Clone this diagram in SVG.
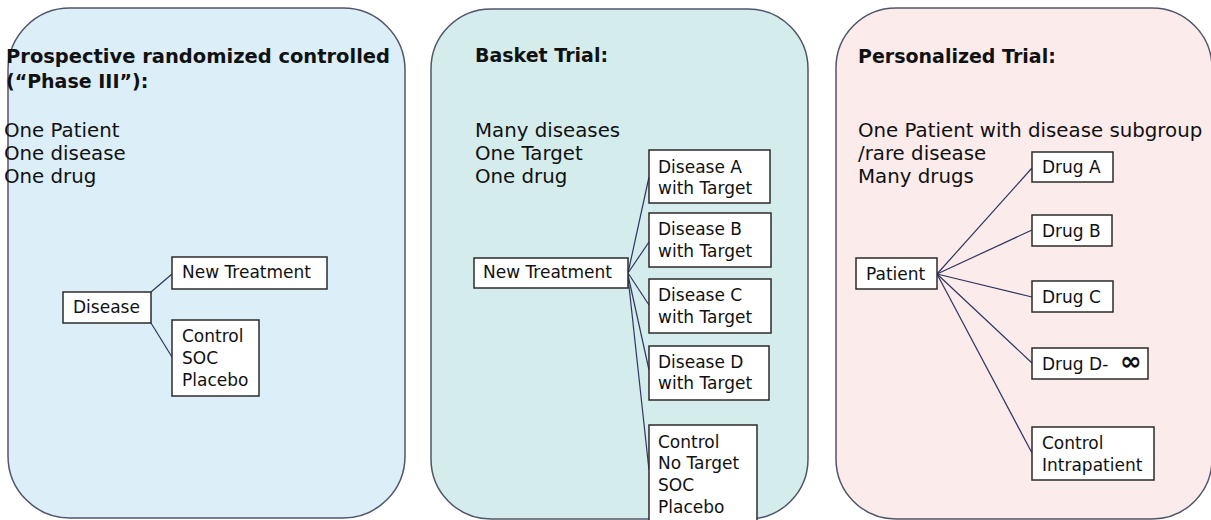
<svg xmlns="http://www.w3.org/2000/svg" width="1211" height="520" viewBox="0 0 1211 520">
<style>
.panel{stroke:#50566a;stroke-width:1.5}
.box{fill:#ffffff;stroke:#2b2b2b;stroke-width:1.5}
.t{font-family:"DejaVu Sans","Liberation Sans",sans-serif;font-size:17px;fill:#111}
.b{font-family:"DejaVu Sans","Liberation Sans",sans-serif;font-size:19.8px;fill:#111}
.h{font-family:"DejaVu Sans","Liberation Sans",sans-serif;font-size:19px;font-weight:bold;fill:#111}
.c line{stroke:#2e3660;stroke-width:1.2}
</style>
<rect width="1211" height="520" fill="#ffffff"/>
<g id="panel-phase3">
<rect class="panel" x="8" y="8" width="397" height="510" rx="62" ry="62" fill="#dceef8"/>
<text class="h" x="6" y="63" textLength="384" lengthAdjust="spacingAndGlyphs">Prospective randomized controlled</text>
<text class="h" x="6" y="88">(“Phase III”):</text>
<text class="b" x="4" y="137">One Patient</text>
<text class="b" x="4" y="160">One disease</text>
<text class="b" x="4" y="183">One drug</text>
</g>
<g id="panel-basket">
<rect class="panel" x="431" y="9" width="377" height="510" rx="60" ry="60" fill="#d5ecec"/>
<text class="h" x="475" y="62">Basket Trial:</text>
<text class="b" x="475" y="137">Many diseases</text>
<text class="b" x="475" y="160">One Target</text>
<text class="b" x="475" y="183">One drug</text>
</g>
<g id="panel-personalized">
<rect class="panel" x="836" y="8" width="376" height="511" rx="60" ry="60" fill="#fbebea"/>
<text class="h" x="858" y="63">Personalized Trial:</text>
<text class="b" x="858" y="137">One Patient with disease subgroup</text>
<text class="b" x="858" y="160">/rare disease</text>
<text class="b" x="858" y="183">Many drugs</text>
</g>
<g id="connectors" class="c">
<line x1="151" y1="292" x2="172" y2="274"/>
<line x1="151" y1="323" x2="172" y2="357"/>
<line x1="628" y1="273" x2="649" y2="177"/>
<line x1="628" y1="273" x2="649" y2="242"/>
<line x1="628" y1="273" x2="649" y2="305"/>
<line x1="628" y1="275" x2="649" y2="370"/>
<line x1="628" y1="277" x2="649" y2="470"/>
<line x1="937" y1="274" x2="1032" y2="168"/>
<line x1="937" y1="274" x2="1032" y2="230"/>
<line x1="937" y1="274" x2="1032" y2="297"/>
<line x1="937" y1="274" x2="1032" y2="363"/>
<line x1="937" y1="274" x2="1032" y2="453"/>
</g>
<g id="disease">
<rect class="box" x="63" y="292" width="88" height="31"/>
<text class="t" x="73" y="313">Disease</text>
</g>
<g id="new-treatment-1">
<rect class="box" x="172" y="257" width="155" height="32"/>
<text class="t" x="182" y="278">New Treatment</text>
</g>
<g id="control-1">
<rect class="box" x="172" y="320" width="87" height="76"/>
<text class="t" x="182" y="342">Control</text>
<text class="t" x="182" y="364">SOC</text>
<text class="t" x="182" y="386">Placebo</text>
</g>
<g id="new-treatment-2">
<rect class="box" x="474" y="258" width="154" height="30"/>
<text class="t" x="483" y="278">New Treatment</text>
</g>
<g id="disease-a">
<rect class="box" x="649" y="150" width="121" height="53"/>
<text class="t" x="658" y="173">Disease A</text>
<text class="t" x="658" y="194">with Target</text>
</g>
<g id="disease-b">
<rect class="box" x="649" y="213" width="122" height="54"/>
<text class="t" x="658" y="235">Disease B</text>
<text class="t" x="658" y="257">with Target</text>
</g>
<g id="disease-c">
<rect class="box" x="649" y="279" width="122" height="54"/>
<text class="t" x="658" y="301">Disease C</text>
<text class="t" x="658" y="323">with Target</text>
</g>
<g id="disease-d">
<rect class="box" x="649" y="346" width="120" height="54"/>
<text class="t" x="658" y="368">Disease D</text>
<text class="t" x="658" y="389">with Target</text>
</g>
<g id="control-2">
<rect class="box" x="649" y="425" width="108" height="100"/>
<text class="t" x="658" y="448">Control</text>
<text class="t" x="658" y="469">No Target</text>
<text class="t" x="658" y="491">SOC</text>
<text class="t" x="658" y="513">Placebo</text>
</g>
<g id="patient">
<rect class="box" x="856" y="258" width="81" height="31"/>
<text class="t" x="866" y="280">Patient</text>
</g>
<g id="drug-a">
<rect class="box" x="1032" y="152" width="81" height="30"/>
<text class="t" x="1042" y="173">Drug A</text>
</g>
<g id="drug-b">
<rect class="box" x="1032" y="215" width="80" height="31"/>
<text class="t" x="1042" y="237">Drug B</text>
</g>
<g id="drug-c">
<rect class="box" x="1032" y="281" width="81" height="31"/>
<text class="t" x="1042" y="303">Drug C</text>
</g>
<g id="drug-d">
<rect class="box" x="1032" y="348" width="116" height="31"/>
<text class="t" x="1042" y="370">Drug D-<tspan x="1120" font-weight="bold" font-size="26">∞</tspan></text>
</g>
<g id="control-3">
<rect class="box" x="1032" y="427" width="122" height="53"/>
<text class="t" x="1042" y="449">Control</text>
<text class="t" x="1042" y="471">Intrapatient</text>
</g>
</svg>
